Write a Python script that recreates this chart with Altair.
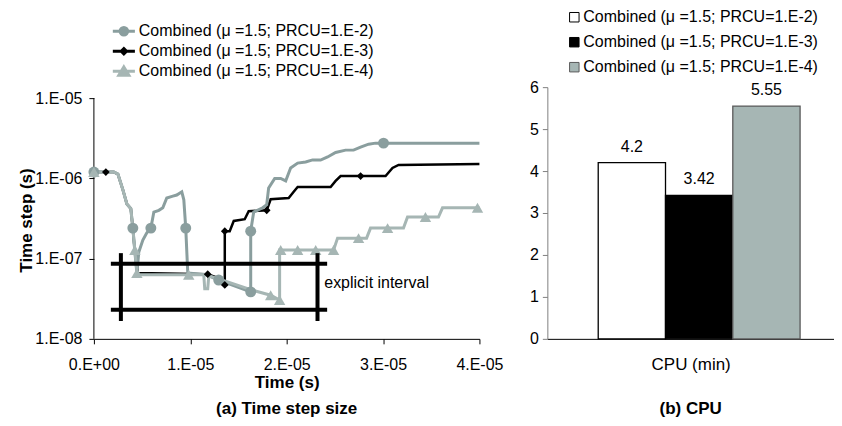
import altair as alt
import pandas as pd

FONT = "Liberation Sans"

S1 = "Combined (μ =1.5; PRCU=1.E-2)"
S2 = "Combined (μ =1.5; PRCU=1.E-3)"
S3 = "Combined (μ =1.5; PRCU=1.E-4)"
series_names = [S1, S2, S3]

C1 = "#8A9E9E"
C2 = "#000000"
C3 = "#A6B6B4"

# ---- (a) time step size: line vertices -------------------------------------
s1_t = [0, 2.07e-6, 2.49e-6, 3.01e-6, 3.42e-6, 3.83e-6, 4.04e-6, 4.25e-6, 4.46e-6,
        4.66e-6, 5.08e-6, 5.49e-6, 5.91e-6, 6.22e-6, 6.74e-6, 7.15e-6, 7.56e-6,
        8.19e-6, 8.60e-6, 9.12e-6, 9.33e-6, 9.53e-6, 9.74e-6, 1.161e-5, 1.295e-5,
        1.627e-5, 1.627e-5, 1.658e-5, 1.751e-5, 1.793e-5, 1.813e-5, 1.876e-5,
        1.938e-5, 1.990e-5, 2.041e-5, 2.114e-5, 2.197e-5, 2.269e-5, 2.352e-5,
        2.425e-5, 2.508e-5, 2.611e-5, 2.694e-5, 2.767e-5, 2.850e-5, 2.922e-5,
        3.005e-5, 4.0e-5]
s1_dt = [1.2e-6, 1.2e-6, 1.13e-6, 7.2e-7, 4.8e-7, 4.2e-7, 2.4e-7, 1.21e-7, 6.6e-8,
         1.21e-7, 1.7e-7, 2.1e-7, 2.4e-7, 3.8e-7, 4.0e-7, 4.3e-7, 5.7e-7,
         6.0e-7, 6.2e-7, 6.8e-7, 5.4e-7, 2.4e-7, 6.6e-8, 6.3e-8, 5.4e-8,
         3.85e-8, 2.2e-7, 3.8e-7, 4.3e-7, 4.7e-7, 7.6e-7, 1.0e-6,
         1.0e-6, 9.3e-7, 1.35e-6, 1.55e-6, 1.6e-6, 1.7e-6, 1.69e-6,
         1.85e-6, 2.1e-6, 2.25e-6, 2.25e-6, 2.45e-6, 2.67e-6, 2.75e-6,
         2.75e-6, 2.75e-6]

s2_t = [0, 1.24e-6, 2.07e-6, 2.49e-6, 3.01e-6, 3.42e-6, 3.83e-6, 4.04e-6, 4.25e-6,
        4.56e-6, 1.181e-5, 1.264e-5, 1.358e-5, 1.358e-5, 1.409e-5, 1.451e-5,
        1.565e-5, 1.606e-5, 1.793e-5, 1.834e-5, 2.021e-5, 2.073e-5, 2.114e-5,
        2.456e-5, 2.508e-5, 2.560e-5, 3.026e-5, 3.098e-5, 3.161e-5, 4.0e-5]
s2_dt = [1.2e-6, 1.2e-6, 1.2e-6, 1.13e-6, 7.2e-7, 4.8e-7, 4.2e-7, 2.4e-7, 1.21e-7,
         6.6e-8, 6.4e-8, 5.9e-8, 4.7e-8, 2.2e-7, 2.2e-7, 2.95e-7,
         3.1e-7, 3.9e-7, 4.0e-7, 5.5e-7, 5.7e-7, 6.8e-7, 7.8e-7,
         7.8e-7, 9.3e-7, 1.07e-6, 1.07e-6, 1.35e-6, 1.47e-6, 1.51e-6]

s3_t = [0, 2.07e-6, 2.49e-6, 3.01e-6, 3.42e-6, 3.83e-6, 4.04e-6, 4.25e-6, 4.46e-6,
        4.66e-6, 9.84e-6, 1.140e-5, 1.150e-5, 1.181e-5, 1.192e-5, 1.295e-5,
        1.627e-5, 1.834e-5, 1.927e-5, 1.927e-5, 2.487e-5, 2.528e-5, 2.829e-5,
        2.870e-5, 3.212e-5, 3.254e-5, 3.575e-5, 3.617e-5, 4.0e-5]
s3_dt = [1.2e-6, 1.2e-6, 1.13e-6, 7.2e-7, 4.8e-7, 4.2e-7, 2.4e-7, 1.28e-7, 7.0e-8,
         6.3e-8, 6.3e-8, 6.3e-8, 4.2e-8, 4.2e-8, 6.1e-8, 5.6e-8,
         4.1e-8, 3.5e-8, 3.05e-8, 1.28e-7, 1.28e-7, 1.8e-7, 1.8e-7,
         2.4e-7, 2.4e-7, 3.3e-7, 3.3e-7, 4.3e-7, 4.3e-7]

# ---- markers ---------------------------------------------------------------
m1_t = [0, 4.04e-6, 5.91e-6, 9.53e-6, 1.295e-5, 1.627e-5, 1.627e-5, 3.005e-5]
m1_dt = [1.2e-6, 2.4e-7, 2.4e-7, 2.4e-7, 5.4e-8, 3.85e-8, 2.2e-7, 2.75e-6]

m2_t = [1.24e-6, 1.181e-5, 1.358e-5, 1.358e-5, 1.793e-5, 2.767e-5]
m2_dt = [1.2e-6, 6.4e-8, 4.7e-8, 2.2e-7, 4.0e-7, 1.07e-6]

m3_t = [0, 4.25e-6, 4.46e-6, 9.84e-6, 1.834e-5, 1.927e-5, 1.938e-5, 2.114e-5,
        2.301e-5, 2.487e-5, 2.746e-5, 3.047e-5, 3.440e-5, 3.98e-5]
m3_dt = [1.2e-6, 1.28e-7, 6.6e-8, 6.3e-8, 3.5e-8, 3.05e-8, 1.28e-7, 1.28e-7,
         1.28e-7, 1.28e-7, 1.8e-7, 2.4e-7, 3.3e-7, 4.3e-7]

# ---- "explicit interval" box --------------------------------------------------
box_t = [1.76e-6, 1.76e-6, 2.8e-6, 2.32e-5]
box_t2 = [2.42e-5, 2.42e-5, 2.8e-6, 2.32e-5]
box_dt = [8.6e-8, 2.3e-8, 1.17e-7, 1.17e-7]
box_dt2 = [8.6e-8, 2.3e-8, 1.67e-8, 1.67e-8]
note_t = [2.39e-5]
note_dt = [4.97e-8]
note_text = ["explicit interval"]

# axis line of panel (a)
yaxis_t = [0]
yaxis_dt = [1e-8]
yaxis_dt2 = [1e-5]

x_ticks = [0, 1e-5, 2e-5, 3e-5, 4e-5]
y_ticks = [1e-8, 1e-7, 1e-6, 1e-5]

# ---- (b) CPU ---------------------------------------------------------------
cpu_values = [4.2, 3.42, 5.55]
cpu_ticks = [0, 1, 2, 3, 4, 5, 6]


def line_df(ts, dts):
    return pd.DataFrame({"t": ts, "dt": dts, "i": list(range(len(ts)))})


xs = alt.Scale(domain=[0, 4e-5], nice=False, zero=False)
ys = alt.Scale(type="log", domain=[1e-8, 1.371e-5], nice=False)

x_axis = alt.Axis(values=x_ticks,
                  labelExpr="datum.value == 0 ? '0.E+00' : format(round(datum.value * 100000), 'd') + '.E-05'",
                  title="Time (s)", titleFontWeight="bold", titleFontSize=17,
                  labelFontSize=16, tickSize=5, labelPadding=13, titlePadding=2,
                  labelFlush=False, labelOverlap=False,
                  domainColor="black", tickColor="black", grid=False)
y_axis = alt.Axis(values=y_ticks,
                  labelExpr="'1.E-' + format(-round(log(datum.value) / LN10), '02d')",
                  title="Time step (s)", titleFontWeight="bold", titleFontSize=17,
                  titleX=-58, titleY=133,
                  labelFontSize=16, tickSize=5, labelPadding=7,
                  labelFlush=False, labelOverlap=False,
                  domain=False, tickColor="black", grid=False)

X = alt.X("t:Q", scale=xs, axis=x_axis)
Y = alt.Y("dt:Q", scale=ys, axis=y_axis)


def series_line(ts, dts, color, width):
    return alt.Chart(line_df(ts, dts)).mark_line(color=color, strokeWidth=width).encode(
        x=X, y=Y, order="i:Q")


def series_marks(ts, dts, color, shape, size):
    return alt.Chart(line_df(ts, dts)).mark_point(
        shape=shape, filled=True, size=size, color=color, opacity=1).encode(x=X, y=Y)


axis_line = alt.Chart(pd.DataFrame({"t": yaxis_t, "dt": yaxis_dt, "dt2": yaxis_dt2})).mark_rule(
    color="black", strokeWidth=1).encode(x=X, y=Y, y2="dt2:Q")

box = alt.Chart(pd.DataFrame({"t": box_t, "t2": box_t2, "dt": box_dt, "dt2": box_dt2})).mark_rule(
    color="black", strokeWidth=4).encode(x=X, x2="t2:Q", y=Y, y2="dt2:Q")

note = alt.Chart(pd.DataFrame({"t": note_t, "dt": note_dt, "txt": note_text})).mark_text(
    align="left", baseline="middle", fontSize=16, font=FONT, color="black").encode(
    x=X, y=Y, text="txt:N")

P1 = "M-1.3,0H1.3M-0.45,0A0.45,0.45,0,1,1,0.45,0A0.45,0.45,0,1,1,-0.45,0Z"
P2 = "M-1.3,0H1.3M0,-0.31L0.31,0L0,0.31L-0.31,0Z"
P3 = "M-1.3,0H1.3M0,-0.5L0.59,0.47L-0.59,0.47Z"

leg_a = alt.Legend(title=None, orient="none", legendX=20, legendY=-66, padding=0,
                   labelFont=FONT, labelFontSize=16, labelLimit=400, labelOffset=5,
                   symbolSize=289, symbolStrokeWidth=3, rowPadding=0, labelColor="black")

legend_layer = alt.Chart(alt.InlineData(values=[])).mark_point(filled=True, opacity=1).encode(
    x=alt.X("t:Q", scale=xs, axis=x_axis),
    y=alt.Y("dt:Q", scale=ys, axis=y_axis),
    fill=alt.Fill("series:N", scale=alt.Scale(domain=series_names, range=[C1, C2, C3]), legend=leg_a),
    stroke=alt.Stroke("series:N", scale=alt.Scale(domain=series_names, range=[C1, C2, C3]), legend=leg_a),
    shape=alt.Shape("series:N", scale=alt.Scale(domain=series_names, range=[P1, P2, P3]), legend=leg_a),
)

left = alt.layer(
    axis_line,
    series_line(s2_t, s2_dt, C2, 2.5),
    series_line(s1_t, s1_dt, C1, 3),
    series_line(s3_t, s3_dt, C3, 3),
    series_marks(m1_t, m1_dt, C1, "circle", 120),
    series_marks(m2_t, m2_dt, C2, "diamond", 60),
    series_marks(m3_t, m3_dt, C3, "triangle-up", 130),
    box,
    note,
    legend_layer,
).properties(
    width=386, height=252,
    title=alt.TitleParams("(a) Time step size", orient="bottom", fontSize=17,
                          fontWeight="bold", font=FONT, offset=10, color="black"),
)

# ---- right panel -----------------------------------------------------------
bar_df = pd.DataFrame({"series": series_names, "cpu": cpu_values})

leg_b = alt.Legend(title=None, orient="none", legendX=19, legendY=-78, padding=0,
                   labelFont=FONT, labelFontSize=16, labelLimit=400, labelOffset=1,
                   symbolType="square", symbolSize=90, symbolStrokeWidth=1,
                   rowPadding=9, labelColor="black")

BX = alt.X("series:N", sort=series_names,
           scale=alt.Scale(paddingInner=0, paddingOuter=0.63, align=0.6),
           axis=alt.Axis(labels=False, ticks=False, title="CPU (min)", titleFontWeight="normal",
                         titleFontSize=17, titlePadding=18, domainColor="black"))
BY = alt.Y("cpu:Q", scale=alt.Scale(domain=[0, 6], nice=False),
           axis=alt.Axis(values=cpu_ticks, title=None, tickSize=5, labelFontSize=16,
                         labelPadding=4, domainColor="#808080", tickColor="#808080", grid=False))

bars = alt.Chart(bar_df).mark_bar(strokeWidth=1.3).encode(
    x=BX, y=BY,
    fill=alt.Fill("series:N", scale=alt.Scale(domain=series_names, range=["#FFFFFF", "#000000", C3]), legend=leg_b),
    stroke=alt.Stroke("series:N", scale=alt.Scale(domain=series_names, range=["#000000", "#000000", "#5A5A5A"]), legend=leg_b),
)
bar_text = alt.Chart(bar_df).mark_text(dy=-8, baseline="bottom", fontSize=16, font=FONT, color="black").encode(
    x=BX, y=BY, text=alt.Text("cpu:Q"))

right = alt.layer(bars, bar_text).properties(
    width=287, height=252,
    title=alt.TitleParams("(b) CPU", orient="bottom", fontSize=17, fontWeight="bold",
                          font=FONT, offset=28, color="black"),
)

chart = alt.hconcat(left, right, spacing=68, bounds="flush").resolve_scale(
    fill="independent", stroke="independent", shape="independent"
).properties(
    padding={"left": 10, "top": 1, "right": 0, "bottom": 0}
).configure(font=FONT).configure_axis(
    labelFont=FONT, titleFont=FONT, labelColor="black", titleColor="black"
).configure_view(stroke=None)

chart.save("out.html", embed_options={"renderer": "svg", "actions": False})
